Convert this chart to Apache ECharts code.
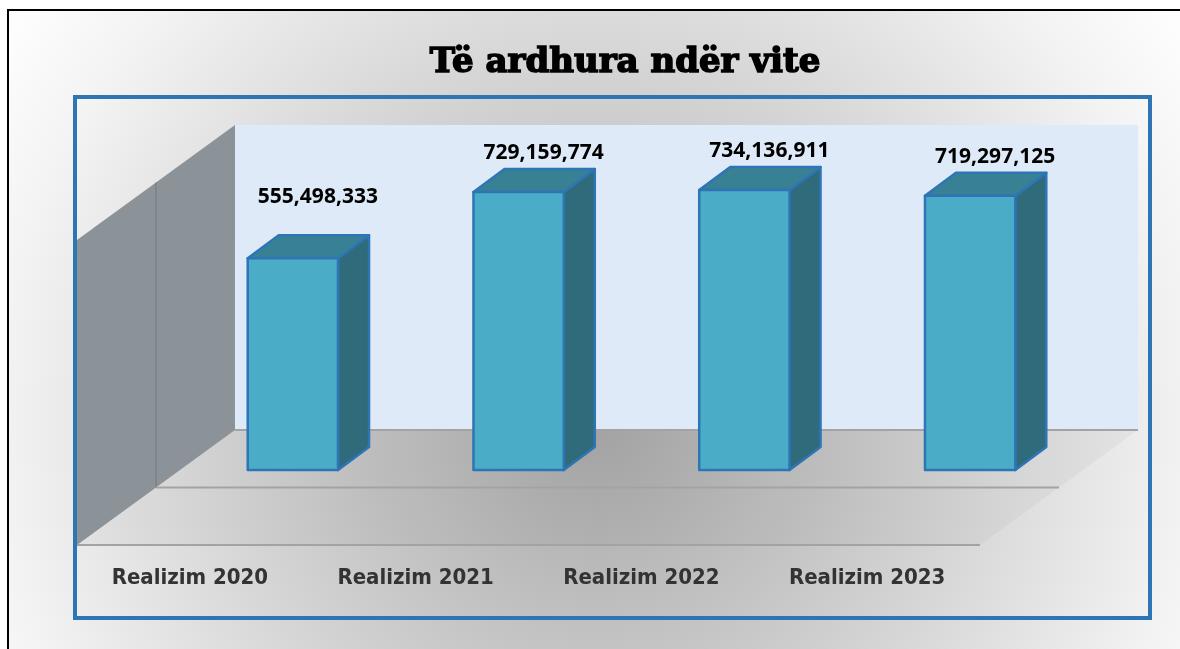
<!DOCTYPE html>
<html>
<head>
<meta charset="utf-8">
<title>Të ardhura ndër vite</title>
<script src="https://cdn.jsdelivr.net/npm/echarts@6/dist/echarts.min.js"></script>
<style>
  html, body { margin: 0; padding: 0; background: #fff; }
  #main { width: 1180px; height: 649px; }
</style>
</head>
<body>
<div id="main"></div>
<script>
const categories = ['Realizim 2020', 'Realizim 2021', 'Realizim 2022', 'Realizim 2023']
const revenue = [555498333, 729159774, 734136911, 719297125]
const valueMax = 800000000

// fake 3d: depth of the whole floor and of one bar, in px
const floorDepth = [158, -115]
const barDepth = [31, -23]
const barPlane = 0.652 // where the bars stand, 0 = front edge, 1 = back wall
const labelNudge = [22, 0, 0, 0] // the first label sits higher in the original

const chart = echarts.init(document.getElementById('main'))

function renderBox (params, api) {
  const i = api.value(0)
  const top = api.coord([i, api.value(1)])
  const base = api.coord([i, 0])
  const w = api.size([1, 0])[0] * 0.4
  const x0 = top[0] - w / 2
  const x1 = top[0] + w / 2
  const dx = barDepth[0]
  const dy = barDepth[1]
  const edge = { stroke: '#2e75b6', lineWidth: 2.5, lineJoin: 'round' }
  return {
    type: 'group',
    children: [
      {
        type: 'polygon',
        shape: { points: [[x1, top[1]], [x1 + dx, top[1] + dy], [x1 + dx, base[1] + dy], [x1, base[1]]] },
        style: Object.assign({ fill: '#2f6b7b' }, edge)
      },
      {
        type: 'polygon',
        shape: { points: [[x0, top[1]], [x0 + dx, top[1] + dy], [x1 + dx, top[1] + dy], [x1, top[1]]] },
        style: Object.assign({ fill: '#388195' }, edge)
      },
      {
        type: 'rect',
        shape: { x: x0, y: top[1], width: w, height: base[1] - top[1] },
        style: Object.assign({ fill: '#4aacc7' }, edge)
      },
      {
        type: 'text',
        style: {
          text: revenue[i].toLocaleString('en-US'),
          x: top[0] + 25,
          y: top[1] + dy - 16 - labelNudge[i],
          align: 'center',
          verticalAlign: 'middle',
          fontFamily: '"Noto Sans"',
          fontWeight: 'bold',
          fontSize: 21,
          fill: '#000'
        }
      }
    ]
  }
}

chart.setOption({
  animation: false,
  title: {
    text: 'Të ardhura ndër vite',
    left: 620,
    top: 41,
    textAlign: 'center',
    textStyle: {
      fontFamily: '"DejaVu Serif"',
      fontWeight: 900,
      fontSize: 34,
      color: '#000',
      textBorderColor: '#000',
      textBorderWidth: 1.6
    }
  },
  grid: [
    { left: 180, right: 97, top: 165, bottom: 179 },
    { left: 77, right: 200, top: 240, bottom: 104 }
  ],
  xAxis: [
    { gridIndex: 0, type: 'category', data: categories, show: false },
    {
      gridIndex: 1,
      type: 'category',
      data: categories,
      axisLine: { show: false },
      axisTick: { show: false },
      axisLabel: {
        margin: 22,
        color: '#333',
        fontFamily: '"DejaVu Sans Condensed", "DejaVu Sans"',
        fontWeight: 'bold',
        fontSize: 22
      }
    }
  ],
  yAxis: [
    { gridIndex: 0, type: 'value', min: 0, max: valueMax, show: false },
    { gridIndex: 1, type: 'value', min: 0, max: valueMax, show: false }
  ],
  series: [{
    type: 'custom',
    xAxisIndex: 0,
    yAxisIndex: 0,
    renderItem: renderBox,
    encode: { x: 0, y: 1 },
    data: revenue.map((v, i) => [i, v])
  }]
})

// walls and floor, worked out from the bar grid
const p0 = chart.convertToPixel({ gridIndex: 0 }, [0, 0])
const p3 = chart.convertToPixel({ gridIndex: 0 }, [3, valueMax])
const band = (p3[0] - p0[0]) / 3
const left = p0[0] - band / 2
const right = p3[0] + band / 2
const back = [floorDepth[0] * (1 - barPlane), floorDepth[1] * (1 - barPlane)]
const bl = left + back[0]
const br = right + back[0]
const bTop = p3[1] + back[1]
const bBottom = p0[1] + back[1]
const fx = floorDepth[0]
const fy = floorDepth[1]
const line = { stroke: '#a3a3a3', lineWidth: 2 }

chart.setOption({
  graphic: [
    {
      type: 'rect',
      z: -10,
      shape: { x: 8, y: 10, width: 1200, height: 700 },
      style: {
        fill: {
          type: 'radial', x: 0.49, y: 0.59, r: 1.0,
          colorStops: [
            { offset: 0, color: '#a8a8a8' },
            { offset: 0.3, color: '#c2c2c2' },
            { offset: 0.55, color: '#d8d8d8' },
            { offset: 0.85, color: '#f3f3f3' },
            { offset: 1, color: '#fdfdfd' }
          ]
        },
        stroke: '#000',
        lineWidth: 2
      }
    },
    {
      type: 'rect',
      z: -9,
      shape: { x: 75, y: 97, width: 1075, height: 521 },
      style: { fill: 'none', stroke: '#2e75b6', lineWidth: 4 }
    },
    {
      type: 'rect',
      z: -8,
      shape: { x: bl, y: bTop, width: br - bl, height: bBottom - bTop },
      style: { fill: '#dfeaf8' }
    },
    {
      type: 'polygon',
      z: -8,
      shape: { points: [[bl, bBottom], [br, bBottom], [br - fx, bBottom - fy], [bl - fx, bBottom - fy]] },
      style: { fill: 'rgba(0,0,0,0.03)' }
    },
    {
      type: 'polygon',
      z: -8,
      shape: { points: [[bl, bTop], [bl, bBottom], [bl - fx, bBottom - fy], [bl - fx, bTop - fy]] },
      style: { fill: '#8b9298' }
    },
    {
      type: 'line',
      z: -7,
      shape: { x1: bl - fx / 2, y1: bTop - fy / 2, x2: bl - fx / 2, y2: bBottom - fy / 2 },
      style: { stroke: '#7c8288', lineWidth: 1.5 }
    },
    { type: 'line', z: -7, shape: { x1: bl, y1: bBottom, x2: br, y2: bBottom }, style: line },
    { type: 'line', z: -7, shape: { x1: bl - fx / 2, y1: bBottom - fy / 2, x2: br - fx / 2, y2: bBottom - fy / 2 }, style: line },
    { type: 'line', z: -7, shape: { x1: bl - fx, y1: bBottom - fy, x2: br - fx, y2: bBottom - fy }, style: line }
  ]
})
</script>
</body>
</html>
